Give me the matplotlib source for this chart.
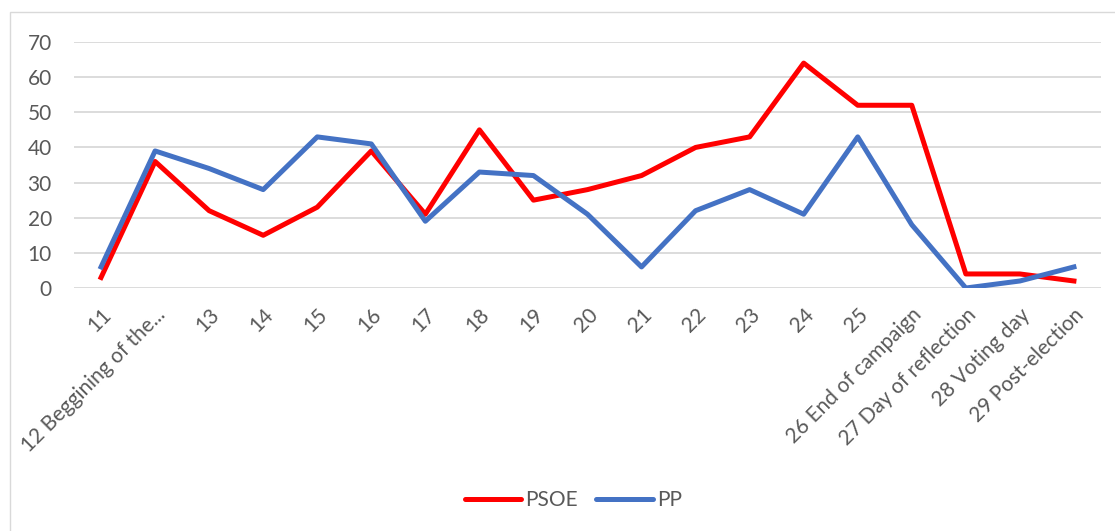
import matplotlib.pyplot as plt
from matplotlib.patches import Rectangle

plt.rcParams['font.family'] = ['Lato', 'DejaVu Sans']

days = ['11', '12 Beggining of the...', '13', '14', '15', '16', '17', '18', '19', '20',
        '21', '22', '23', '24', '25', '26 End of campaign', '27 Day of reflection',
        '28 Voting day', '29 Post-election']
psoe = [3, 36, 22, 15, 23, 39, 21, 45, 25, 28, 32, 40, 43, 64, 52, 52, 4, 4, 2]
pp = [6, 39, 34, 28, 43, 41, 19, 33, 32, 21, 6, 22, 28, 21, 43, 18, 0, 2, 6]

fig = plt.figure(figsize=(11.15, 5.31), dpi=100)
ax = fig.add_axes([0.0664, 0.4576, 0.921, 0.4633])

x = range(len(days))
ax.plot(x, psoe, color='#ff0000', lw=3.6, label='PSOE', solid_joinstyle='round')
ax.plot(x, pp, color='#4472c4', lw=3.6, label='PP', solid_joinstyle='round')

ax.set_xlim(-0.5, len(days) - 0.5)
ax.set_ylim(0, 70)
ax.set_yticks(range(0, 71, 10))
ax.yaxis.grid(True, color='#d9d9d9', lw=1.3)
ax.set_axisbelow(True)
for s in ax.spines.values():
    s.set_visible(False)
ax.tick_params(length=0, colors='#595959', labelsize=15)
ax.tick_params(axis='y', pad=16)
ax.set_xticks(list(x))
ax.set_xticklabels(days, rotation=45, ha='right', rotation_mode='anchor')
ax.tick_params(axis='x', pad=12)

leg = fig.legend(loc='center', bbox_to_anchor=(0.514, 0.058), ncol=2, frameon=False,
                 fontsize=15, handlelength=2.7, columnspacing=0.9, handletextpad=0.2)
for t in leg.get_texts():
    t.set_color('#595959')
for h in leg.legend_handles:
    h.set_solid_capstyle('round')

fig.patches.append(Rectangle((0.009, -0.01), 1.0, 0.988, transform=fig.transFigure,
                             fill=False, edgecolor='#d9d9d9', lw=1))

fig.savefig('out.png', dpi=100)
